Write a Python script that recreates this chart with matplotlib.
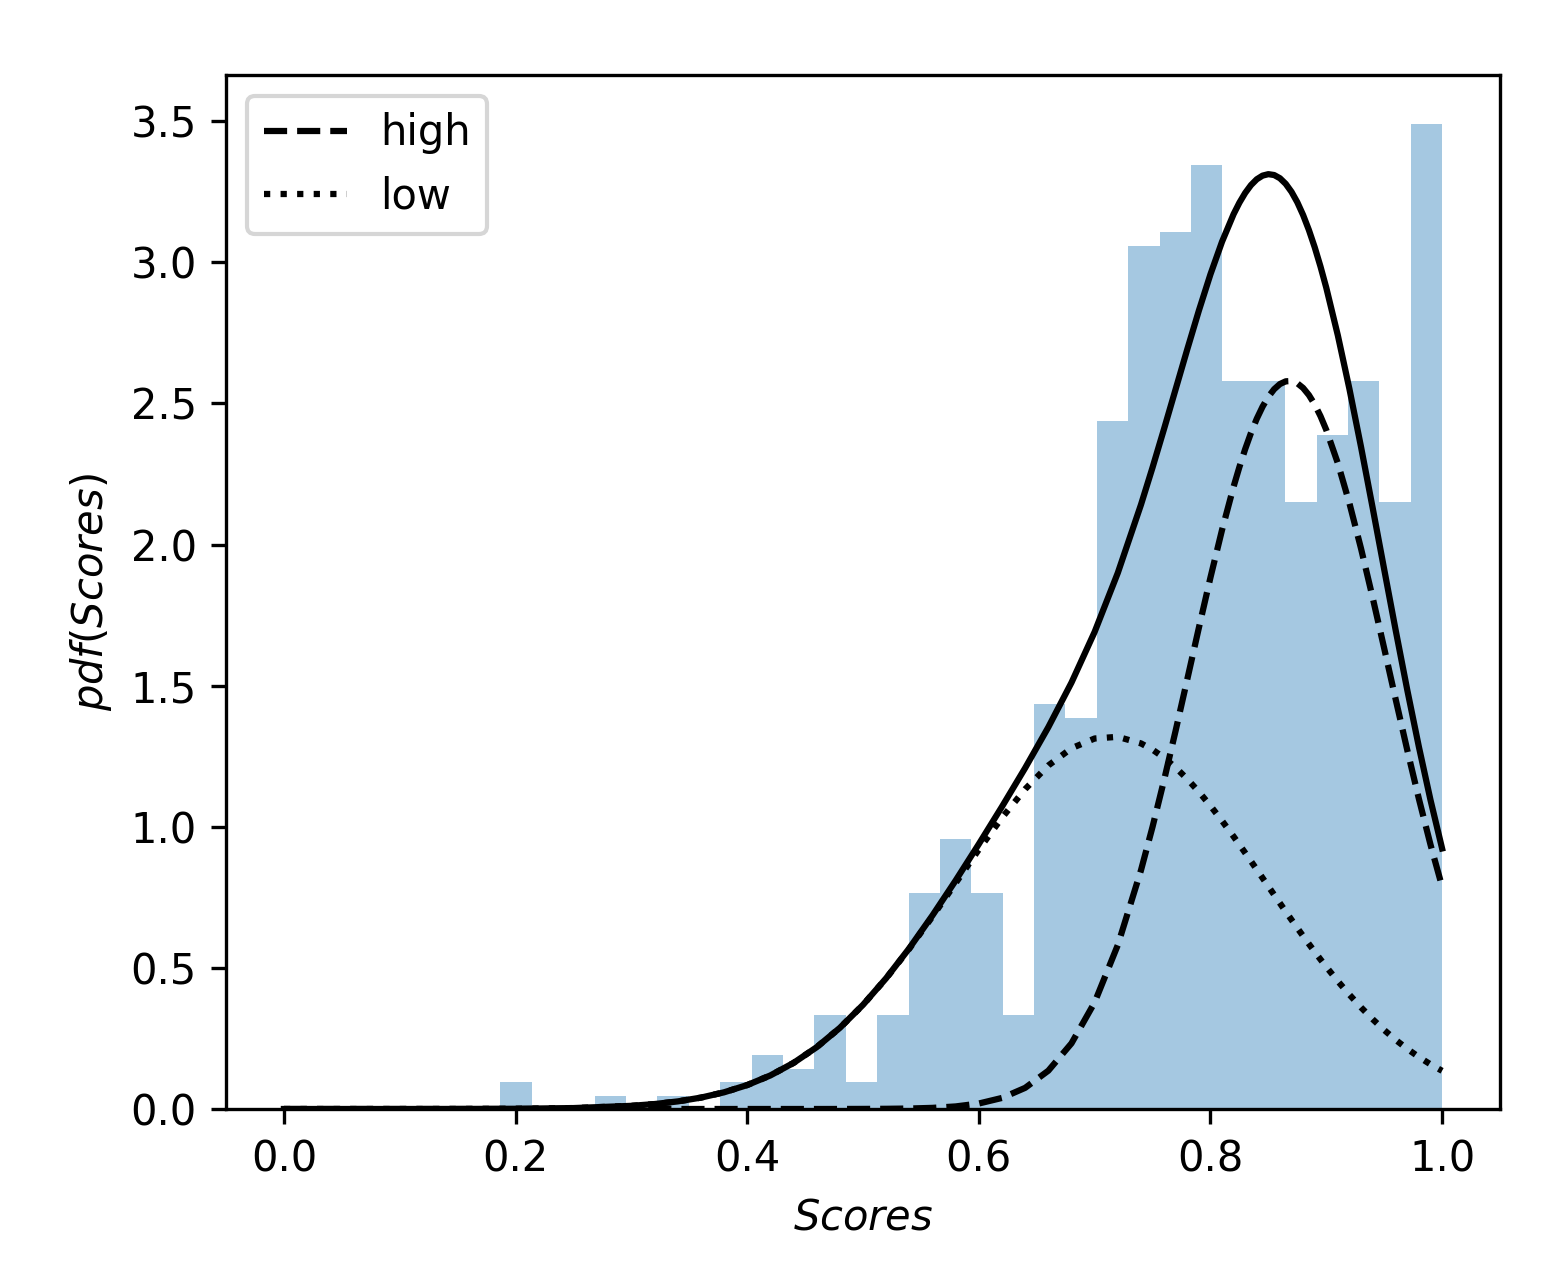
import matplotlib
matplotlib.use("Agg")
import matplotlib.pyplot as plt
import numpy as np

# Histogram of the scores: counts per bin, 30 equal bins from 0.187 to 1.0
bin_lo, bin_hi = 0.187, 1.0
counts = [2, 0, 0, 1, 0, 1, 0, 2, 4, 3,
          7, 2, 7, 16, 20, 16, 7, 30, 29, 51,
          64, 65, 70, 54, 54, 45, 50, 54, 45, 73]

# Fitted pdf curves
x_pts = [0.00, 0.05, 0.10, 0.15, 0.20, 0.25,
         0.30, 0.32, 0.34, 0.36, 0.38, 0.40, 0.42, 0.44, 0.46, 0.48,
         0.50, 0.52, 0.54, 0.56, 0.58, 0.60, 0.62, 0.64, 0.66, 0.68,
         0.70, 0.72, 0.74, 0.75, 0.76, 0.77, 0.78, 0.79, 0.80, 0.81,
         0.82, 0.825, 0.83, 0.835, 0.84, 0.845, 0.85, 0.855, 0.86, 0.865,
         0.87, 0.875, 0.88, 0.885, 0.89, 0.895, 0.90, 0.91, 0.92, 0.93,
         0.94, 0.95, 0.96, 0.97, 0.98, 0.99, 1.00]

pdf_high = [0.0, 0.0, 0.0, 0.0, 0.0, 0.0,
            0.0, 0.0, 0.0, 0.0, 0.0, 0.0, 0.0, 0.0, 0.0, 0.0001,
            0.0003, 0.0007, 0.0017, 0.0040, 0.0091, 0.0194, 0.0392, 0.0749, 0.1357, 0.2326,
            0.3777, 0.5808, 0.8457, 0.9999, 1.1662, 1.3417, 1.5228, 1.7051, 1.8833, 2.0519,
            2.2055, 2.2748, 2.3384, 2.3957, 2.4459, 2.4887, 2.5237, 2.5505, 2.5688, 2.5784,
            2.5793, 2.5714, 2.5548, 2.5297, 2.4964, 2.4551, 2.4063, 2.2880, 2.1462, 1.9860,
            1.8128, 1.6324, 1.4500, 1.2706, 1.0984, 0.9366, 0.7879]

pdf_low = [0.0, 0.0, 0.0, 0.0002, 0.0008, 0.0033,
           0.0112, 0.0175, 0.0269, 0.0403, 0.0591, 0.0848, 0.1189, 0.1632, 0.2190, 0.2873,
           0.3688, 0.4628, 0.5681, 0.6821, 0.8006, 0.9193, 1.0321, 1.1333, 1.2171, 1.2782,
           1.3128, 1.3187, 1.2954, 1.2732, 1.2445, 1.2096, 1.1692, 1.1239, 1.0743, 1.0212,
           0.9654, 0.9366, 0.9075, 0.8780, 0.8484, 0.8185, 0.7887, 0.7588, 0.7291, 0.6996,
           0.6703, 0.6414, 0.6128, 0.5847, 0.5572, 0.5301, 0.5037, 0.4529, 0.4050, 0.3600,
           0.3183, 0.2799, 0.2447, 0.2128, 0.1841, 0.1582, 0.1353]

pdf_total = [0.0, 0.0, 0.0, 0.0002, 0.0008, 0.0033,
             0.0112, 0.0175, 0.0269, 0.0403, 0.0591, 0.0848, 0.1189, 0.1632, 0.2190, 0.2874,
             0.3691, 0.4635, 0.5698, 0.6861, 0.8097, 0.9387, 1.0713, 1.2082, 1.3528, 1.5108,
             1.6905, 1.8995, 2.1411, 2.2731, 2.4107, 2.5513, 2.6920, 2.8290, 2.9576, 3.0731,
             3.1709, 3.2114, 3.2459, 3.2737, 3.2943, 3.3072, 3.3124, 3.3093, 3.2979, 3.2780,
             3.2496, 3.2128, 3.1676, 3.1144, 3.0536, 2.9852, 2.9100, 2.7409, 2.5512, 2.3460,
             2.1311, 1.9123, 1.6947, 1.4834, 1.2825, 1.0948, 0.9232]

# Figure sized to 1559x1272 px at 300 dpi
fig = plt.figure(figsize=(1559 / 300, 1272 / 300), dpi=300)
ax = fig.add_axes([226 / 1559, 1 - 1109 / 1272, 1274 / 1559, 1034 / 1272])

# Histogram (density) in light blue
edges = np.linspace(bin_lo, bin_hi, len(counts) + 1)
ax.hist(edges[:-1], bins=edges, weights=counts, density=True,
        color='C0', alpha=0.4)

# Mixture components and their sum
ax.plot(x_pts, pdf_total, color='black', linestyle='-', linewidth=1.5)
ax.plot(x_pts, pdf_high, color='black', linestyle='--', linewidth=1.5, label='high')
ax.plot(x_pts, pdf_low, color='black', linestyle=':', linewidth=1.5, label='low')

ax.set_xlabel('$Scores$')
ax.set_ylabel('$pdf(Scores)$')
ax.legend(loc='upper left')

plt.savefig('out.png', dpi=300)
